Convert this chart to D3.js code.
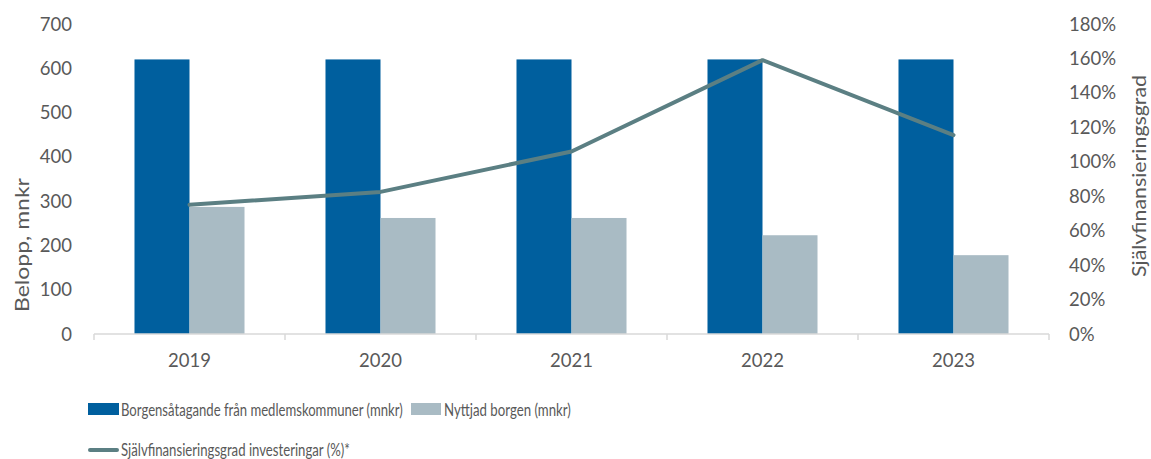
<!DOCTYPE html>
<html><head><meta charset="utf-8">
<script src="https://cdn.jsdelivr.net/npm/d3@7"></script>
<style>body{margin:0;background:#fff}svg{display:block}text{font-family:Lato,"Liberation Sans",sans-serif;fill:#595959}</style>
</head><body><svg id="c" width="1151" height="459"></svg>
<script>
const years = ["2019","2020","2021","2022","2023"];
const borgensatagande = [620,620,620,620,620];
const nyttjad = [287,262,262,223,178];
const sjalvfin = [75,82.5,106,159,115.5];
const leftTicks = [0,100,200,300,400,500,600,700];
const rightTicks = [0,20,40,60,80,100,120,140,160,180];
const seriesNames = ["Borgensåtagande från medlemskommuner (mnkr)","Nyttjad borgen (mnkr)","Självfinansieringsgrad investeringar (%)*"];
const colors = ["#005f9e","#a9bbc4","#5b7f83"];

const svg = d3.select("#c");
const x0 = 94, x1 = 1049, yTop = 24, yBot = 334;
const x = d3.scaleBand().domain(years).range([x0,x1]).paddingInner(0.424).paddingOuter(0.212);
const xb = d3.scaleBand().domain([0,1]).range([0,x.bandwidth()]);
const yL = d3.scaleLinear().domain([0,700]).range([yBot,yTop]);
const yR = d3.scaleLinear().domain([0,180]).range([yBot,yTop]);

// fits a text to a target width by horizontal scaling (transform based)
function fitText(sel, px, py, rot, w, anchor){
  const n = sel.node().getComputedTextLength();
  const s = w / n;
  sel.attr("x",0).attr("y",0).attr("text-anchor",anchor)
     .attr("transform",`translate(${px},${py}) rotate(${rot}) scale(${s},1)`);
}

// bars
const g = svg.append("g");
years.forEach((yr,i)=>{
  [borgensatagande[i], nyttjad[i]].forEach((v,j)=>{
    g.append("rect").attr("x",x(yr)+xb(j)).attr("width",xb.bandwidth())
      .attr("y",yL(v)).attr("height",yBot-yL(v)).attr("fill",colors[j]);
  });
});

// x axis
const xAxis = svg.append("g").attr("transform",`translate(0,${yBot})`);
xAxis.append("line").attr("x1",x0).attr("x2",x1).attr("stroke","#d9d9d9").attr("stroke-width",1.5);
d3.range(years.length+1).forEach(k=>{
  const xx = x0 + k*(x1-x0)/years.length;
  xAxis.append("line").attr("x1",xx).attr("x2",xx).attr("y1",0).attr("y2",6).attr("stroke","#d9d9d9").attr("stroke-width",1.5);
});
years.forEach(yr=>{
  xAxis.append("text").attr("x",x(yr)+x.bandwidth()/2).attr("y",33).attr("text-anchor","middle").attr("font-size",18.5).text(yr);
});

// left axis labels
leftTicks.forEach(t=>{
  svg.append("text").attr("x",72).attr("y",yL(t)+6.5).attr("text-anchor","end").attr("font-size",18.5).text(t);
});
// right axis labels
rightTicks.forEach(t=>{
  svg.append("text").attr("x",1069).attr("y",yR(t)+6.5).attr("text-anchor","start").attr("font-size",18.5).text(t+"%");
});

// axis titles
fitText(svg.append("text").attr("font-size",19).text("Belopp, mnkr"), 29, 245, -90, 134, "middle");
fitText(svg.append("text").attr("font-size",19).text("Självfinansieringsgrad"), 1146, 176, -90, 202, "middle");

// line
const line = d3.line().x((d,i)=>x(years[i])+x.bandwidth()/2).y(d=>yR(d));
svg.append("path").datum(sjalvfin).attr("d",line).attr("fill","none").attr("stroke",colors[2]).attr("stroke-width",4).attr("stroke-linecap","round").attr("stroke-linejoin","round");

// legend
const lg = svg.append("g");
lg.append("rect").attr("x",88).attr("y",403).attr("width",31).attr("height",12).attr("fill",colors[0]);
fitText(lg.append("text").attr("font-size",18).text(seriesNames[0]), 121, 416, 0, 282, "start");
lg.append("rect").attr("x",411).attr("y",403).attr("width",30).attr("height",12).attr("fill",colors[1]);
fitText(lg.append("text").attr("font-size",18).text(seriesNames[1]), 444, 416, 0, 127, "start");
lg.append("line").attr("x1",90).attr("x2",117).attr("y1",450).attr("y2",450).attr("stroke",colors[2]).attr("stroke-width",4).attr("stroke-linecap","round");
fitText(lg.append("text").attr("font-size",18).text(seriesNames[2]), 121, 456, 0, 229, "start");
</script></body></html>
